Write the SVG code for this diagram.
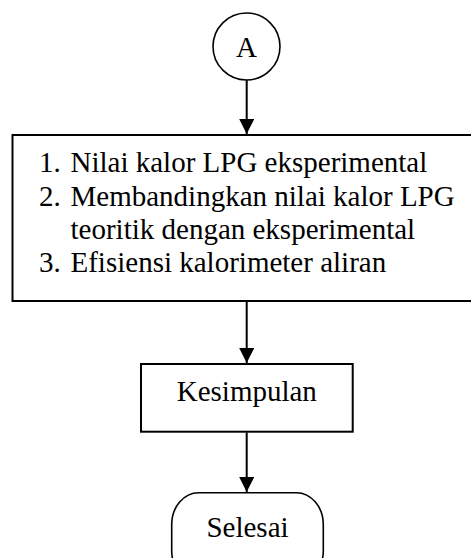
<svg xmlns="http://www.w3.org/2000/svg" width="471" height="558" viewBox="0 0 471 558">
<style>
  .shape { fill: #ffffff; stroke: #000000; stroke-width: 2; }
  .thin { stroke-width: 1.6; }
  .lbl { font-family: "Liberation Serif", "Times New Roman", serif; font-size: 29px; fill: #000000; }
  .mid { text-anchor: middle; }
  .conn { stroke: #000000; stroke-width: 2; fill: none; marker-end: url(#arrow); }
</style>
<defs>
  <marker id="arrow" markerUnits="userSpaceOnUse" markerWidth="16" markerHeight="16" viewBox="0 0 16 16" refX="15" refY="7.5" orient="auto">
    <path d="M0,0 L15,7.5 L0,15 z" fill="#000000"/>
  </marker>
</defs>
<rect width="471" height="558" fill="#ffffff"/>
<g id="connectors">
  <line class="conn" x1="246.7" y1="80" x2="246.7" y2="134"/>
  <line class="conn" x1="246.7" y1="302" x2="246.7" y2="363"/>
  <line class="conn" x1="246.7" y1="432.5" x2="246.7" y2="492"/>
</g>
<g id="node-a">
  <circle class="shape thin" cx="246.5" cy="46.5" r="33.5"/>
  <text class="lbl mid" x="246.5" y="57">A</text>
</g>
<g id="node-hasil">
  <rect class="shape" x="12.5" y="135" width="472" height="166"/>
  <text class="lbl" x="39" y="172.3">1.</text>
  <text class="lbl" x="70.5" y="172.3">Nilai kalor LPG eksperimental</text>
  <text class="lbl" x="39" y="205.6">2.</text>
  <text class="lbl" x="70.5" y="205.6">Membandingkan nilai kalor LPG</text>
  <text class="lbl" x="70.5" y="238.9">teoritik dengan eksperimental</text>
  <text class="lbl" x="39" y="272.2">3.</text>
  <text class="lbl" x="70.5" y="272.2">Efisiensi kalorimeter aliran</text>
</g>
<g id="node-kesimpulan">
  <rect class="shape" x="141" y="364" width="211.7" height="67.7"/>
  <text class="lbl mid" x="246.8" y="401">Kesimpulan</text>
</g>
<g id="node-selesai">
  <rect class="shape thin" x="171.7" y="492.7" width="151.6" height="90" rx="27" ry="32"/>
  <text class="lbl mid" x="247.5" y="536.7">Selesai</text>
</g>
</svg>
